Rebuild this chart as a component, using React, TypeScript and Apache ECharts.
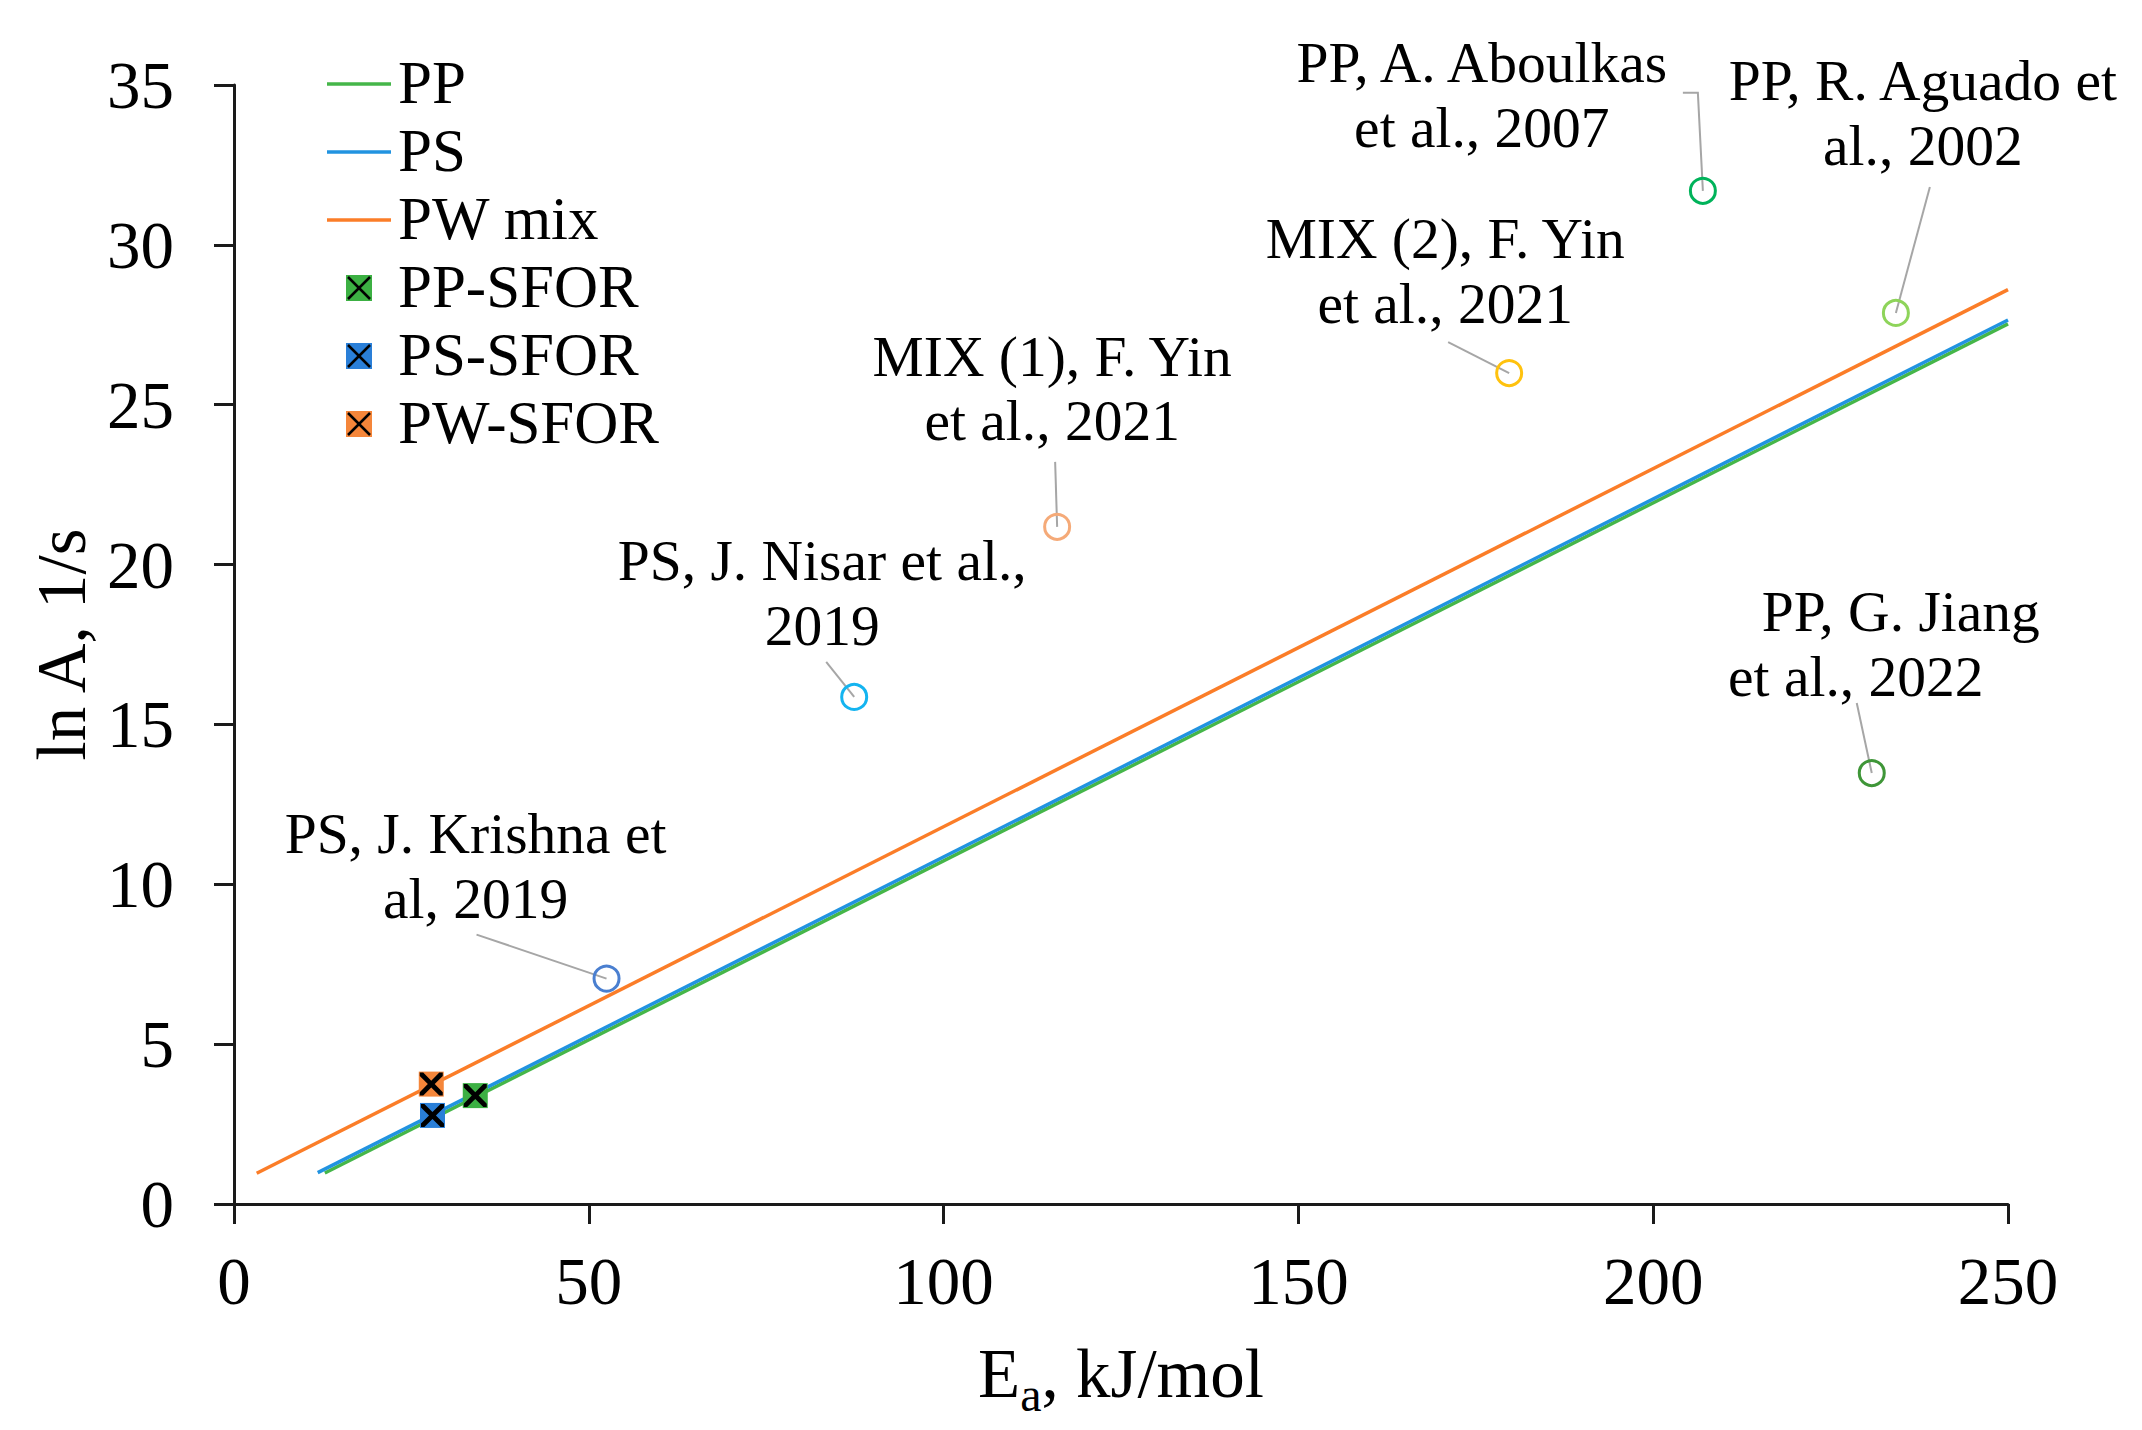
import React, { useEffect, useRef } from "react";
import * as echarts from "echarts";

// ---------- data ----------
const ppLine: number[][] = [[12.8, 0.97], [250, 27.53]];
const psLine: number[][] = [[11.8, 0.98], [250, 27.65]];
const pwLine: number[][] = [[3.2, 0.96], [250, 28.6]];

const ppSfor: number[][] = [[34.0, 3.39]];
const psSfor: number[][] = [[27.97, 2.77]];
const pwSfor: number[][] = [[27.8, 3.75]];

const litPoints: number[][] = [
  [52.5, 7.05],
  [87.4, 15.86],
  [116.0, 21.18],
  [179.7, 25.99],
  [207.0, 31.69],
  [234.2, 27.87],
  [230.8, 13.48],
];
const litLabels: string[][] = [
  ["PS, J. Krishna et", "al, 2019"],
  ["PS, J. Nisar et al.,", "2019"],
  ["MIX (1), F. Yin", "et al., 2021"],
  ["MIX (2), F. Yin", "et al., 2021"],
  ["PP, A. Aboulkas", "et al., 2007"],
  ["PP, R. Aguado et", "al., 2002"],
  ["PP, G. Jiang", "et al., 2022"],
];
const legendNames = ["PP", "PS", "PW mix", "PP-SFOR", "PS-SFOR", "PW-SFOR"];
const xAxisTitle = "{e|E}{s|a}{e|, kJ/mol}";
const yAxisTitle = "ln A, 1/s";

// ---------- styles / layout ----------
const FONT = '"Liberation Serif", "Times New Roman", serif';
const C_PP = "#45b649";
const C_PS = "#2193e0";
const C_PW = "#fb7d28";
const C_PP_SQ = "#3cb043";
const C_PS_SQ = "#2a7fd8";
const C_PW_SQ = "#f5863a";
const litColors = ["#4a7fd0", "#14b4f0", "#f5aa78", "#ffc20e", "#00b35a", "#8ed45a", "#3f9638"];
// offsets (px) relative to each literature point: leader start(s), then the two text lines' centers
const annotLayout = [
  { leader: [[-130, -44]], lines: [[-131, -145], [-131, -80]] },
  { leader: [[-28, -35]], lines: [[-32, -136], [-32, -71]] },
  { leader: [[-2, -65]], lines: [[-5, -170], [-5, -106]] },
  { leader: [[-61, -31]], lines: [[-64, -135], [-64, -70]] },
  { leader: [[-20, -98], [-5, -98]], lines: [[-221, -128], [-221, -63]] },
  { leader: [[34, -126]], lines: [[27, -232], [27, -167]] },
  { leader: [[-15, -70]], lines: [[29, -162], [-16, -97]] },
];
const X_MARK =
  "path://M0,0L3,0L10,7L17,0L20,0L20,3L13,10L20,17L20,20L17,20L10,13L3,20L0,20L0,17L7,10L0,3Z";

export default function App() {
  const ref = useRef<HTMLDivElement>(null);

  useEffect(() => {
    const el = ref.current;
    if (!el) return;
    const chart = echarts.init(el, null, { renderer: "svg" });

    const axisLine = { show: true, onZero: false, lineStyle: { color: "#1a1a1a", width: 3 } };
    const axisTick = { show: true, inside: false, length: 20, lineStyle: { color: "#1a1a1a", width: 3 } };
    const axisLabel = { fontSize: 67, fontFamily: FONT, color: "#000" };

    const option: any = {
      animation: false,
      backgroundColor: "#ffffff",
      grid: { left: 234, right: 134, top: 85, bottom: 226, containLabel: false },
      xAxis: {
        type: "value",
        min: 0,
        max: 250,
        interval: 50,
        name: xAxisTitle,
        nameLocation: "middle",
        nameGap: 135,
        nameTextStyle: {
          fontFamily: FONT,
          fontSize: 69,
          color: "#000",
          rich: {
            e: { fontFamily: FONT, fontSize: 69, lineHeight: 69, verticalAlign: "top", color: "#000" },
            s: { fontFamily: FONT, fontSize: 48, lineHeight: 110, verticalAlign: "middle", color: "#000" },
          },
        },
        axisLine,
        axisTick,
        axisLabel: { ...axisLabel, margin: 43 },
        splitLine: { show: false },
      },
      yAxis: {
        type: "value",
        min: 0,
        max: 35,
        interval: 5,
        name: yAxisTitle,
        nameLocation: "middle",
        nameGap: 138,
        nameRotate: 90,
        nameTextStyle: { fontFamily: FONT, fontSize: 69, color: "#000" },
        axisLine,
        axisTick,
        axisLabel: { ...axisLabel, margin: 60 },
        splitLine: { show: false },
      },
      series: [
        { name: legendNames[0], type: "line", data: ppLine, symbol: "none", lineStyle: { color: C_PP, width: 3.5 }, z: 2 },
        { name: legendNames[1], type: "line", data: psLine, symbol: "none", lineStyle: { color: C_PS, width: 3.5 }, z: 2 },
        { name: legendNames[2], type: "line", data: pwLine, symbol: "none", lineStyle: { color: C_PW, width: 3.5 }, z: 2 },
        { name: legendNames[3], type: "scatter", data: ppSfor, symbol: "rect", symbolSize: 25, itemStyle: { color: C_PP_SQ, opacity: 1 }, z: 4 },
        { name: legendNames[4], type: "scatter", data: psSfor, symbol: "rect", symbolSize: 25, itemStyle: { color: C_PS_SQ, opacity: 1 }, z: 4 },
        { name: legendNames[5], type: "scatter", data: pwSfor, symbol: "rect", symbolSize: 25, itemStyle: { color: C_PW_SQ, opacity: 1 }, z: 4 },
        {
          name: "SFOR-x",
          type: "scatter",
          data: [...ppSfor, ...psSfor, ...pwSfor],
          symbol: X_MARK,
          symbolSize: 23,
          itemStyle: { color: "#000", opacity: 1 },
          z: 5,
        },
        {
          name: "Literature",
          type: "scatter",
          symbol: "circle",
          symbolSize: 25,
          data: litPoints.map((p, i) => ({
            value: p,
            itemStyle: { color: "rgba(0,0,0,0)", borderColor: litColors[i], borderWidth: 3, opacity: 1 },
          })),
          z: 6,
        },
      ],
    };
    chart.setOption(option);

    const graphics: any[] = [];
    // legend
    const rowY = [84, 152, 220, 288, 356, 424];
    const lineColors = [C_PP, C_PS, C_PW];
    const sqColors = [C_PP_SQ, C_PS_SQ, C_PW_SQ];
    legendNames.forEach((name, i) => {
      const y = rowY[i];
      if (i < 3) {
        graphics.push({
          type: "line",
          shape: { x1: 327, y1: y, x2: 391, y2: y },
          style: { stroke: lineColors[i], lineWidth: 3.5 },
          silent: true,
        });
      } else {
        const cx = 359;
        const h = 13;
        graphics.push({
          type: "rect",
          shape: { x: cx - h, y: y - h, width: 2 * h, height: 2 * h },
          style: { fill: sqColors[i - 3] },
          silent: true,
        });
        graphics.push({
          type: "line",
          shape: { x1: cx - h + 2, y1: y - h + 2, x2: cx + h - 2, y2: y + h - 2 },
          style: { stroke: "#000", lineWidth: 2.5 },
          silent: true,
        });
        graphics.push({
          type: "line",
          shape: { x1: cx + h - 2, y1: y - h + 2, x2: cx - h + 2, y2: y + h - 2 },
          style: { stroke: "#000", lineWidth: 2.5 },
          silent: true,
        });
      }
      graphics.push({
        type: "text",
        x: 398,
        y: y - 2,
        style: {
          text: name,
          fontFamily: FONT,
          fontSize: 61,
          lineHeight: 58,
          fill: "#000",
          align: "left",
          verticalAlign: "middle",
          textAlign: "left",
          textVerticalAlign: "middle",
        },
        silent: true,
      });
    });

    // annotations
    litPoints.forEach((p, i) => {
      const px = chart.convertToPixel({ xAxisIndex: 0, yAxisIndex: 0 }, p) as unknown as number[];
      const lay = annotLayout[i];
      const pts = lay.leader.map(([dx, dy]) => [px[0] + dx, px[1] + dy]);
      pts.push([px[0], px[1]]);
      graphics.push({
        type: "polyline",
        shape: { points: pts },
        style: { stroke: "#a6a6a6", lineWidth: 2, fill: null },
        silent: true,
        z: 3,
      });
      lay.lines.forEach(([dx, dy], j) => {
        graphics.push({
          type: "text",
          x: px[0] + dx,
          y: px[1] + dy,
          style: {
            text: litLabels[i][j],
            fontFamily: FONT,
            fontSize: 57.5,
            lineHeight: 56,
            fill: "#000",
            align: "center",
            verticalAlign: "middle",
            textAlign: "center",
            textVerticalAlign: "middle",
          },
          silent: true,
        });
      });
    });

    chart.setOption({ graphic: { elements: graphics } });

    return () => {
      chart.dispose();
    };
  }, []);

  return (
    <div
      ref={ref}
      style={{ position: "fixed", left: 0, top: 0, width: 2142, height: 1430, background: "#fff" }}
    />
  );
}
